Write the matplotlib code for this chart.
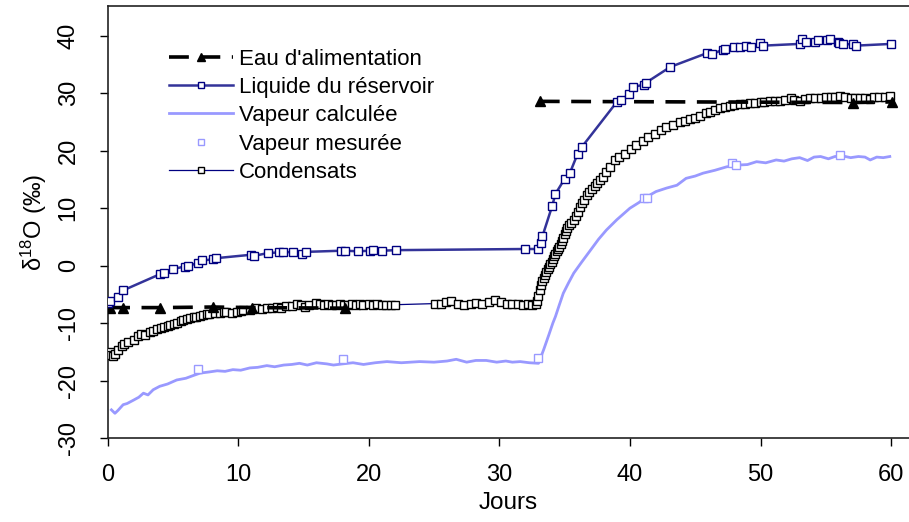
import matplotlib
matplotlib.use("Agg")
import matplotlib.pyplot as plt
import numpy as np

plt.rcParams['font.family'] = ['Liberation Sans', 'DejaVu Sans']
plt.rcParams['mathtext.fontset'] = 'custom'
plt.rcParams['mathtext.rm'] = 'Liberation Sans'
plt.rcParams['mathtext.it'] = 'Liberation Sans'
plt.rcParams['axes.unicode_minus'] = False

# Eau d'alimentation (feed water)
feed_x = [0.2, 1.2, 4.0, 8.1, 11.1, 18.2, np.nan, 33.1, 57.1, 60.1]
feed_y = [-7.3, -7.3, -7.3, -7.2, -7.3, -7.4, np.nan, 28.6, 28.4, 28.5]

# Liquide du réservoir
liq_x = [0.06, 0.2, 0.8, 1.2, 4.0, 4.3, 5.0, 5.9, 6.2, 6.95, 7.2, 8.1, 8.3, 11.0, 11.2,
         12.3, 13.1, 13.4, 14.2, 14.9, 15.2, 17.9, 18.2, 19.2, 20.1, 20.3, 21.0, 22.1,
         32.0, 33.0, 33.2, 33.3, 34.05, 34.3, 35.0, 35.4, 36.0, 36.3, 39.0, 39.3, 39.9,
         40.2, 41.1, 41.2, 43.1, 45.9, 46.3, 47.1, 47.3, 48.0, 48.4, 48.9, 49.3, 49.96,
         50.2, 53.0, 53.2, 53.5, 54.2, 54.4, 55.1, 55.3, 55.9, 56.0, 56.3, 57.1, 57.3, 60.0]
liq_y = [-6.5, -6.1, -5.4, -4.3, -1.5, -1.2, -0.6, -0.15, -0.1, 0.55, 0.9, 1.1, 1.3, 1.9, 1.7,
         2.2, 2.3, 2.3, 2.4, 2.0, 2.4, 2.6, 2.6, 2.5, 2.6, 2.8, 2.6, 2.7,
         2.9, 2.9, 3.9, 5.1, 10.4, 12.5, 15.1, 16.1, 19.5, 20.6, 28.5, 28.8, 29.8,
         31.1, 31.5, 31.8, 34.6, 37.0, 36.8, 37.6, 37.7, 38.1, 38.1, 38.3, 38.1, 38.8,
         38.3, 38.6, 39.5, 38.9, 39.0, 39.2, 39.3, 39.5, 39.0, 38.8, 38.6, 38.5, 38.3, 38.6]

# Vapeur calculée
vc_x = [0.3, 0.57, 0.8, 1.2, 1.5, 2.0, 2.4, 2.75, 3.1, 3.5, 4.0, 4.6, 5.3, 6.0, 6.6, 7.1,
        7.8, 8.4, 9.0, 9.6, 10.2, 10.9, 11.5, 12.2, 12.8, 13.5, 14.1, 14.7, 15.3, 16.0,
        16.8, 17.3, 18.0, 18.8, 19.6, 20.5, 21.4, 22.5, 23.9, 25.0, 26.0, 26.7, 27.5,
        28.2, 29.0, 29.8, 30.5, 31.0, 31.6, 32.3, 33.0, 33.4, 33.8, 34.1, 34.3, 34.6,
        34.9, 35.3, 35.7, 36.3, 37.0, 37.6, 38.2, 39.0, 40.0, 40.7, 41.3, 42.0, 42.8,
        43.6, 44.3, 45.0, 45.6, 46.5, 47.4, 48.2, 49.0, 49.7, 50.4, 51.2, 51.8, 52.4,
        53.0, 53.6, 54.1, 54.6, 55.2, 55.7, 56.3, 56.9, 57.5, 58.0, 58.4, 58.9, 59.4, 59.9]
vc_y = [-25.1, -25.7, -25.2, -24.2, -24.0, -23.4, -22.9, -22.2, -22.5, -21.6, -21.0, -20.6,
        -19.9, -19.6, -19.1, -18.7, -18.5, -18.3, -18.4, -18.1, -18.2, -17.8, -17.7, -17.4,
        -17.6, -17.3, -17.2, -17.0, -17.3, -16.9, -17.1, -17.3, -17.1, -16.9, -17.2, -16.9,
        -16.7, -16.9, -16.7, -16.8, -16.6, -16.3, -16.8, -16.5, -16.5, -16.8, -16.6, -16.8,
        -16.7, -16.9, -17.0, -14.6, -12.0, -10.0, -8.85, -6.8, -4.8, -3.0, -1.3, 0.6, 2.75,
        4.6, 6.2, 8.0, 10.0, 11.0, 12.0, 12.9, 13.5, 14.0, 15.2, 15.6, 16.1, 16.6, 17.2,
        17.5, 17.6, 18.1, 17.9, 18.4, 18.2, 18.6, 18.8, 18.3, 18.9, 19.0, 18.6, 19.0, 19.1,
        18.8, 19.0, 18.9, 18.4, 18.9, 18.8, 19.0]

# Vapeur mesurée
vm_x = [6.95, 18.05, 33.0, 41.1, 41.3, 47.8, 48.1, 56.1]
vm_y = [-18.0, -16.3, -16.1, 11.7, 11.7, 17.8, 17.5, 19.3]

# Condensats
cond_x = [0.2, 0.3, 0.45, 0.6, 0.8, 1.1, 1.3, 1.6, 2.0, 2.3, 2.6, 2.9, 3.25, 3.5, 3.8, 4.1,
          4.3, 4.6, 4.8, 5.1, 5.3, 5.6, 5.8, 6.1, 6.3, 6.6, 6.8, 7.1, 7.3, 7.6, 7.8, 8.2,
          8.6, 8.9, 9.1, 9.5, 9.9, 10.2, 10.4, 10.9, 11.4, 11.8, 12.2, 12.6, 13.0, 13.3,
          13.7, 14.1, 14.5, 14.8, 15.1, 15.4, 16.0, 16.3, 16.6, 16.9, 17.2, 17.5, 17.8,
          18.1, 18.4, 18.7, 19.0, 19.3, 19.6, 20.0, 20.3, 20.6, 21.0, 21.3, 21.7, 22.0,
          25.1, 25.5, 25.9, 26.3, 26.8, 27.3, 27.8, 28.2, 28.7, 29.2, 29.7, 30.1, 30.6,
          31.0, 31.4, 31.8, 32.2, 32.5, 32.8,
          32.9, 33.0, 33.1, 33.2, 33.3, 33.4, 33.5, 33.6, 33.7, 33.8, 33.9, 34.0, 34.1,
          34.2, 34.3, 34.4, 34.5, 34.6, 34.7, 34.8, 34.9, 35.0, 35.1, 35.2, 35.35, 35.5,
          35.7, 35.85, 36.0, 36.2, 36.35, 36.5, 36.7, 36.9, 37.1, 37.3, 37.5, 37.7, 37.95,
          38.2, 38.5, 38.85, 39.2, 39.6, 40.1, 40.5, 41.0, 41.4, 41.9, 42.4, 42.8, 43.3,
          43.8, 44.2, 44.6, 45.0, 45.4, 45.8, 46.1, 46.5, 46.9, 47.3, 47.7, 48.0, 48.4,
          48.8, 49.2, 49.6, 50.0, 50.3, 50.7, 51.1, 51.5, 51.9, 52.3, 52.6, 53.0, 53.4,
          53.8, 54.2, 54.6, 55.0, 55.4, 55.7, 56.1, 56.5, 56.9, 57.2, 57.6, 58.0, 58.4,
          58.7, 59.1, 59.5, 59.9]
cond_y = [-15.0, -15.6, -15.7, -15.4, -14.6, -13.9, -13.6, -13.3, -12.9, -12.3, -11.9, -12.0,
          -11.5, -11.3, -11.0, -10.9, -10.7, -10.5, -10.3, -10.1, -9.9, -9.6, -9.4, -9.3,
          -9.1, -9.0, -8.85, -8.7, -8.6, -8.5, -8.4, -8.3, -8.2, -8.1, -8.0, -8.2, -8.0,
          -7.9, -7.7, -7.7, -7.4, -7.5, -7.3, -7.4, -7.2, -7.3, -7.1, -7.0, -6.65, -6.9,
          -7.2, -6.8, -6.5, -6.7, -6.8, -6.7, -6.9, -6.8, -6.7, -6.9, -6.8, -6.7, -6.8,
          -6.7, -6.9, -6.6, -6.8, -6.7, -6.8, -6.8, -6.8, -6.8,
          -6.6, -6.7, -6.3, -6.2, -6.6, -6.8, -6.7, -6.5, -6.6, -6.3, -6.0, -6.4, -6.7,
          -6.7, -6.6, -6.8, -6.6, -6.8, -6.7,
          -6.2, -5.3, -4.2, -3.4, -2.7, -2.1, -1.6, -1.1, -0.6, -0.2, 0.3, 0.7, 1.1,
          1.6, 2.0, 2.5, 2.9, 3.3, 3.8, 4.3, 4.9, 5.5, 6.1, 6.5, 7.0, 7.5,
          8.0, 8.6, 9.3, 10.2, 10.9, 11.5, 12.3, 12.9, 13.4, 13.9, 14.4, 14.9, 15.5,
          16.3, 17.2, 18.4, 18.9, 19.4, 20.3, 21.0, 21.7, 22.4, 23.0, 23.6, 24.2, 24.5,
          25.0, 25.2, 25.5, 25.7, 26.0, 26.5, 26.8, 27.1, 27.4, 27.6, 27.8, 28.0, 28.1,
          28.2, 28.3, 28.4, 28.5, 28.5, 28.6, 28.6, 28.7, 28.8, 29.1, 28.8, 28.7, 29.0,
          29.1, 29.2, 29.2, 29.3, 29.3, 29.4, 29.5, 29.3, 29.2, 29.2, 29.1, 29.2, 29.0,
          29.3, 29.3, 29.4, 29.5]

fig = plt.figure(figsize=(9.09, 5.22), dpi=100)
ax = fig.add_axes([107.5 / 909, 84 / 522, (909 - 107.5) / 909, 432 / 522])

ax.plot(vc_x, vc_y, color='#9999FF', lw=2.0, label='Vapeur calculée', zorder=2)
ax.plot(cond_x, cond_y, color='#000080', lw=0.9, marker='s', ms=5.2, mfc='white',
        mec='black', mew=1.0, label='Condensats', zorder=3)
ax.plot(feed_x, feed_y, color='black', lw=2.6, ls=(0, (5.5, 3.2)), marker='^', ms=7,
        mfc='black', mec='black', label="Eau d'alimentation", zorder=4)
ax.plot(liq_x, liq_y, color='#333399', lw=1.8, marker='s', ms=5.2, mfc='white',
        mec='#000080', mew=1.0, label='Liquide du réservoir', zorder=5)
ax.plot(vm_x, vm_y, ls='none', marker='s', ms=5.2, mfc='white', mec='#9999FF', mew=1.0,
        label='Vapeur mesurée', zorder=5)

ax.set_xlim(0, 61.37)
ax.set_ylim(-30, 45.2)
ax.set_xticks([0, 10, 20, 30, 40, 50, 60])
ax.set_yticks([-30, -20, -10, 0, 10, 20, 30, 40])
ax.spines['right'].set_visible(False)
for s in ['left', 'bottom', 'top']:
    ax.spines[s].set_linewidth(1.2)
    ax.spines[s].set_color('#222222')
ax.tick_params(axis='both', direction='out', length=6, width=1.0, labelsize=17, colors='black')
ax.tick_params(axis='x', pad=13)
ax.tick_params(axis='y', pad=14)
for lab in ax.get_yticklabels():
    lab.set_rotation(90)
    lab.set_va('center')
ax.set_xlabel('Jours', fontsize=17.5, labelpad=4)
ax.set_ylabel(r'δ$^{18}$O (‰)', fontsize=17, labelpad=6)

h, l = ax.get_legend_handles_labels()
order = ["Eau d'alimentation", 'Liquide du réservoir', 'Vapeur calculée', 'Vapeur mesurée', 'Condensats']
hd = dict(zip(l, h))
leg = ax.legend([hd[k] for k in order], order, loc='upper left', bbox_to_anchor=(0.066, 0.922),
                frameon=False, fontsize=16, handlelength=2.85, handletextpad=0.3,
                labelspacing=0.33, borderaxespad=0, markerscale=0.8)

fig.savefig('out.png', dpi=100)
